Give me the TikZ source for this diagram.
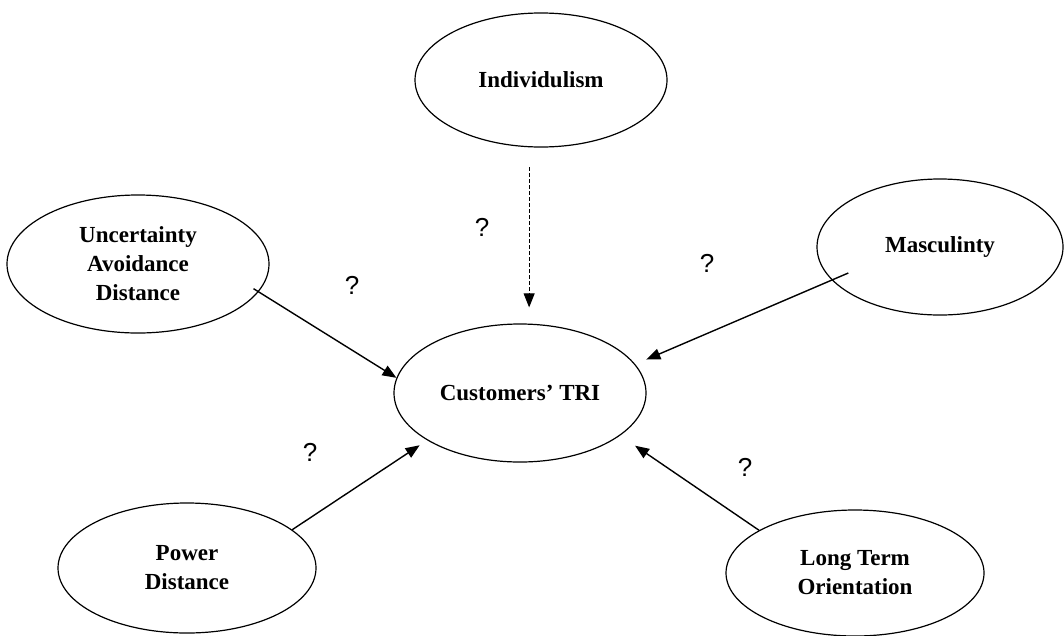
\documentclass[tikz,border=0pt]{standalone}
\usepackage{fontspec}
\setmainfont{Liberation Serif}
\newfontfamily\qfont{Liberation Sans}
\usetikzlibrary{shapes.geometric,arrows.meta}
\begin{document}
\begin{tikzpicture}[x=1pt, y=-1pt,
    elli/.style={ellipse, draw, line width=1.2pt, inner sep=0pt, align=center,
      font=\bfseries\fontsize{23}{29}\selectfont},
    qm/.style={font=\qfont\fontsize{26}{26}\selectfont},
    arr/.style={line width=1.4pt, -{Triangle[length=14pt,width=11pt]}}
  ]
  \clip (0,0) rectangle (1064,635);
  % factors
  \node[elli, minimum width=252pt, minimum height=134pt] (ind) at (541,80) {Individulism};
  \node[elli, minimum width=262pt, minimum height=138pt] (unc) at (138,264) {Uncertainty\\Avoidance\\Distance};
  \node[elli, minimum width=246pt, minimum height=136pt] (mas) at (940,247) {Masculinty};
  \node[elli, minimum width=252pt, minimum height=138pt] (tri) at (520,393) {Customers' TRI};
  \node[elli, minimum width=258pt, minimum height=130pt] (pow) at (187,568) {Power\\Distance};
  \node[elli, minimum width=258pt, minimum height=126pt] (lto) at (855,573) {Long Term\\Orientation};
  % links
  \draw[arr, line width=1pt, dash pattern=on 4pt off 2pt, shorten <=20pt, shorten >=16pt] (ind.260) -- (ind.260 |- tri.north);
  \draw[arr, shorten <=-6pt] (unc.-13) -- (tri.173);
  \draw[arr, shorten <=-18pt, shorten >=12pt] (mas.197) -- (tri.14);
  \draw[arr, shorten >=9pt] (pow.20) -- (tri.207);
  \draw[arr, shorten >=18pt] (lto.156) -- (tri.-23);
  % question marks
  \node[qm] (q1) at (482,227) {?};
  \node[qm] (q2) at (352,285) {?};
  \node[qm] (q3) at (707,263) {?};
  \node[qm] (q4) at (310,452) {?};
  \node[qm] (q5) at (745,467) {?};
\end{tikzpicture}
\end{document}
